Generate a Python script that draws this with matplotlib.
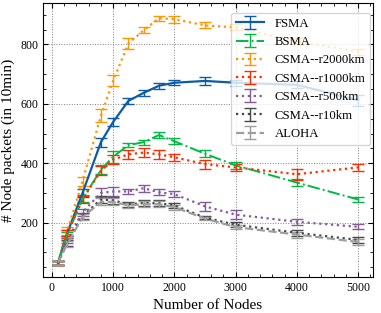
import matplotlib
matplotlib.use("Agg")
import matplotlib.pyplot as plt
from matplotlib.ticker import AutoMinorLocator

plt.rcParams['font.family'] = ['Liberation Serif', 'DejaVu Serif']
plt.rcParams['xtick.direction'] = 'in'
plt.rcParams['ytick.direction'] = 'in'
plt.rcParams['xtick.top'] = True
plt.rcParams['ytick.right'] = True

nodes = [100, 250, 500, 800, 1000, 1250, 1500, 1750, 2000, 2500, 3000, 4000, 5000]

fsma = [65, 165, 300, 471, 539, 610, 637, 661, 671, 677, 671, 664, 612]
fsma_err = [6, 10, 12, 15, 14, 10, 10, 10, 8, 12, 10, 12, 18]

bsma = [65, 160, 280, 378, 422, 461, 471, 495, 474, 432, 393, 335, 278]
bsma_err = [6, 10, 12, 15, 20, 8, 8, 10, 10, 12, 12, 12, 8]

csma_2000 = [65, 172, 340, 560, 678, 803, 848, 888, 885, 864, 857, 810, 776]
csma_2000_err = [6, 12, 15, 22, 18, 20, 10, 8, 12, 10, 10, 10, 10]

csma_1000 = [65, 165, 278, 375, 412, 430, 436, 430, 420, 397, 386, 363, 386]
csma_1000_err = [6, 10, 12, 15, 15, 15, 15, 15, 12, 15, 12, 18, 12]

csma_500 = [65, 140, 235, 300, 305, 305, 316, 302, 296, 255, 227, 203, 186]
csma_500_err = [6, 10, 12, 15, 15, 8, 12, 10, 10, 15, 15, 10, 8]

csma_10 = [65, 132, 222, 278, 275, 262, 266, 265, 258, 217, 193, 166, 142]
csma_10_err = [6, 10, 10, 12, 12, 8, 10, 10, 8, 6, 8, 10, 10]

aloha = [65, 128, 218, 270, 270, 258, 262, 262, 252, 214, 185, 160, 135]
aloha_err = [6, 10, 10, 12, 12, 8, 10, 10, 8, 6, 8, 10, 10]

series = [
    ("FSMA", fsma, fsma_err, '#0C5DA5', '-', 1.6),
    ("BSMA", bsma, bsma_err, '#00B945', '-.', 1.4),
    ("CSMA--r2000km", csma_2000, csma_2000_err, '#FF9500', ':', 1.6),
    ("CSMA--r1000km", csma_1000, csma_1000_err, '#FF2C00', ':', 1.6),
    ("CSMA--r500km", csma_500, csma_500_err, '#845B97', ':', 1.6),
    ("CSMA--r10km", csma_10, csma_10_err, '#474747', ':', 1.6),
    ("ALOHA", aloha, aloha_err, '#9e9e9e', '--', 1.6),
]

fig = plt.figure(figsize=(3.81, 3.13), dpi=100)
ax = fig.add_axes([0.113, 0.115, 0.866, 0.875])

for label, vals, errs, color, ls, lw in series:
    ax.errorbar(nodes, vals, yerr=errs, label=label, color=color, ls=ls, lw=lw,
                capsize=4, elinewidth=1.0, capthick=1.0)

ax.set_xlabel("Number of Nodes", fontsize=11)
ax.set_ylabel("# Node packets (in 10min)", fontsize=11)
ax.set_xticks([0, 1000, 2000, 3000, 4000, 5000])
ax.set_yticks([200, 400, 600, 800])
ax.xaxis.set_minor_locator(AutoMinorLocator())
ax.yaxis.set_minor_locator(AutoMinorLocator())
ax.tick_params(labelsize=8.5)
ax.grid(True, ls=':', color='gray', lw=0.7)
ax.legend(loc='upper right', bbox_to_anchor=(1.0, 0.975), fontsize=9.2,
          handlelength=2.2, borderaxespad=0.2, labelspacing=0.5)

fig.savefig("out.png", dpi=100)
